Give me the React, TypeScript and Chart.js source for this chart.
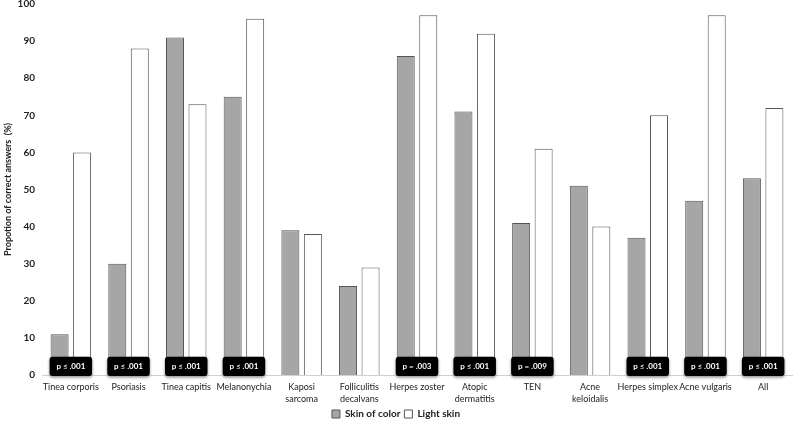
import React, { useEffect, useRef } from "react";
import { Chart, registerables } from "chart.js";

Chart.register(...registerables);

const categories: (string | string[])[] = [
  "Tinea corporis",
  "Psoriasis",
  "Tinea capitis",
  "Melanonychia",
  ["Kaposi", "sarcoma"],
  ["Folliculitis", "decalvans"],
  "Herpes zoster",
  ["Atopic", "dermatitis"],
  "TEN",
  ["Acne", "keloidalis"],
  "Herpes simplex",
  "Acne vulgaris",
  "All",
];

const skinOfColor = [11, 30, 91, 75, 39, 24, 86, 71, 41, 51, 37, 47, 53];
const lightSkin = [60, 88, 73, 96, 38, 29, 97, 92, 61, 40, 70, 97, 72];
const pValues = [
  "p ≤ .001",
  "p ≤ .001",
  "p ≤ .001",
  "p ≤ .001",
  "",
  "",
  "p = .003",
  "p ≤ .001",
  "p = .009",
  "",
  "p ≤ .001",
  "p ≤ .001",
  "p ≤ .001",
];
const yTicks = [0, 10, 20, 30, 40, 50, 60, 70, 80, 90, 100];

const FONT = "Lato, 'Open Sans', sans-serif";

const pBoxPlugin = {
  id: "pBoxes",
  afterDatasetsDraw(chart: any) {
    const ctx = chart.ctx;
    const m0 = chart.getDatasetMeta(0);
    const m1 = chart.getDatasetMeta(1);
    const ys = chart.scales.y;
    pValues.forEach((label, i) => {
      if (!label) return;
      const b0 = m0.data[i];
      const b1 = m1.data[i];
      const left = b0.x - b0.width / 2 - 1;
      const right = b1.x + b1.width / 2 + 1;
      const top = ys.getPixelForValue(4.9);
      const bottom = ys.getPixelForValue(0) + 1;
      ctx.save();
      ctx.shadowColor = "rgba(0,0,0,0.45)";
      ctx.shadowBlur = 3;
      ctx.shadowOffsetY = 1.5;
      ctx.fillStyle = "#000";
      ctx.beginPath();
      (ctx as any).roundRect(left, top, right - left, bottom - top, 3);
      ctx.fill();
      ctx.restore();
      ctx.save();
      ctx.fillStyle = "#fff";
      ctx.font = `bold 8px ${FONT}`;
      ctx.textAlign = "center";
      ctx.textBaseline = "middle";
      ctx.fillText(label, (left + right) / 2, (top + bottom) / 2);
      ctx.restore();
    });
  },
};

export default function App() {
  const ref = useRef<HTMLCanvasElement | null>(null);
  useEffect(() => {
    document.body.style.margin = "0";
    const chart = new Chart(ref.current!, {
      type: "bar",
      data: {
        labels: categories,
        datasets: [
          {
            label: "Skin of color",
            data: skinOfColor,
            backgroundColor: "#a6a6a6",
            borderColor: "#555555",
            borderWidth: 1,
            categoryPercentage: 0.78,
            barPercentage: 0.8,
          },
          {
            label: "Light skin",
            data: lightSkin,
            backgroundColor: "#ffffff",
            borderColor: "#555555",
            borderWidth: 1,
            categoryPercentage: 0.78,
            barPercentage: 0.8,
          },
        ],
      },
      options: {
        animation: false,
        responsive: false,
        layout: { padding: { top: 4, right: 1, left: 0, bottom: -6 } },
        plugins: {
          legend: {
            position: "bottom",
            labels: {
              boxWidth: 8,
              boxHeight: 8,
              padding: 4,
              color: "#222",
              font: { family: FONT, size: 10, weight: "bold" },
            },
          },
          tooltip: { enabled: false },
        },
        scales: {
          x: {
            grid: { display: false, drawTicks: false },
            border: { display: true, color: "#d0d0d0" },
            afterFit: (s: any) => {
              s.height = 30;
            },
            ticks: {
              color: "#222",
              maxRotation: 0,
              autoSkip: false,
              padding: 6,
              font: { family: FONT, size: 9, lineHeight: 1.35 },
            },
          },
          y: {
            min: 0,
            max: 100,
            afterBuildTicks: (s: any) => {
              s.ticks = yTicks.map((v) => ({ value: v }));
            },
            afterFit: (s: any) => {
              s.width = 42;
              s.paddingTop = 0;
              s.paddingBottom = 0;
            },
            grid: { display: false, drawTicks: false },
            border: { display: false },
            ticks: {
              color: "#222",
              padding: 7,
              font: { family: FONT, size: 10, weight: "bold" },
            },
            title: {
              display: true,
              text: "Propotion of correct answers  (%)",
              color: "#222",
              padding: { top: 3, bottom: 0 },
              font: { family: FONT, size: 9, weight: "bold" },
            },
          },
        },
      },
      plugins: [pBoxPlugin],
    });
    return () => chart.destroy();
  }, []);
  return (
    <div style={{ width: 793, height: 423 }}>
      <canvas ref={ref} width={793} height={423} />
    </div>
  );
}
